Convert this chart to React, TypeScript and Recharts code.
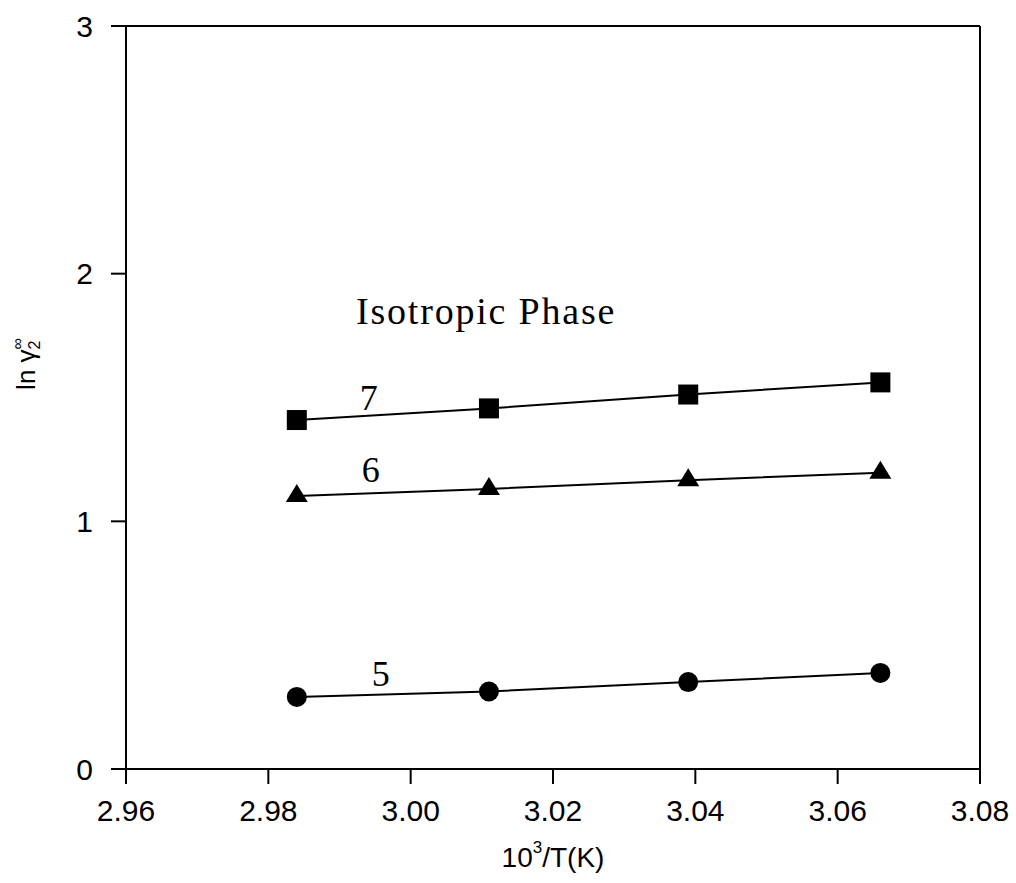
import { Label, Line, LineChart, ReferenceDot, ReferenceLine, XAxis, YAxis } from "recharts";

// 10^3/T values (x) and ln gamma values for curves 5, 6, 7
const xValues = [2.984, 3.011, 3.039, 3.066];
const curve5 = [0.291, 0.313, 0.351, 0.388];
const curve6 = [1.102, 1.131, 1.166, 1.196];
const curve7 = [1.409, 1.456, 1.512, 1.561];

const xTicks = [2.96, 2.98, 3.0, 3.02, 3.04, 3.06, 3.08];
const yTicks = [0, 1, 2, 3];

const data = xValues.map((x, i) => ({ x, c5: curve5[i], c6: curve6[i], c7: curve7[i] }));

const sans = "Liberation Sans, Arial, sans-serif";
const serif = "Liberation Serif, Times New Roman, serif";
const tickStyle = { fill: "#000", fontSize: 30, fontFamily: sans };

const squareDot = (p: any) => (
  <rect key={`sq-${p.index}`} x={p.cx - 10} y={p.cy - 10} width={20} height={20} fill="#000" />
);
const triangleDot = (p: any) => (
  <polygon
    key={`tr-${p.index}`}
    points={`${p.cx},${p.cy - 12} ${p.cx + 11},${p.cy + 6} ${p.cx - 11},${p.cy + 6}`}
    fill="#000"
  />
);
const circleDot = (p: any) => <circle key={`ci-${p.index}`} cx={p.cx} cy={p.cy} r={10} fill="#000" />;

const curveLabel = (text: string, size = 36, spacing = 0) => (props: any) => {
  const { viewBox } = props;
  const cx = viewBox.x + (viewBox.width || 0) / 2;
  const cy = viewBox.y + (viewBox.height || 0) / 2;
  return (
    <text
      x={cx}
      y={cy}
      textAnchor="middle"
      dominantBaseline="central"
      fontFamily={serif}
      fontSize={size}
      letterSpacing={spacing}
      fill="#000"
    >
      {text}
    </text>
  );
};

export default function App() {
  return (
    <div style={{ position: "absolute", left: 0, top: 0, background: "#fff" }}>
      <LineChart width={1016} height={883} data={data} margin={{ top: 26, right: 36, bottom: 34, left: 26 }}>
        <XAxis
          type="number"
          dataKey="x"
          domain={[2.96, 3.08]}
          ticks={xTicks}
          tickFormatter={(v: number) => v.toFixed(2)}
          allowDataOverflow
          height={80}
          tick={tickStyle}
          tickSize={15}
          tickMargin={16}
          axisLine={{ stroke: "#000", strokeWidth: 2 }}
          tickLine={{ stroke: "#000", strokeWidth: 2 }}
        >
          <Label
            content={(props: any) => {
              const vb = props.viewBox;
              return (
                <text
                  x={vb.x + vb.width / 2}
                  y={vb.y + 88}
                  textAnchor="middle"
                  dominantBaseline="central"
                  fontFamily={sans}
                  fontSize={28}
                  fill="#000"
                >
                  10<tspan dy={-10} fontSize={17}>3</tspan>
                  <tspan dy={10}>/T(K)</tspan>
                </text>
              );
            }}
          />
        </XAxis>
        <YAxis
          type="number"
          domain={[0, 3]}
          ticks={yTicks}
          width={100}
          tick={tickStyle}
          tickSize={15}
          tickMargin={18}
          axisLine={{ stroke: "#000", strokeWidth: 2 }}
          tickLine={{ stroke: "#000", strokeWidth: 2 }}
        >
          <Label
            content={() => (
              <text
                x={26}
                y={364}
                transform="rotate(-90, 26, 364)"
                textAnchor="middle"
                dominantBaseline="central"
                fontFamily={sans}
                fontSize={26}
                fill="#000"
              >
                ln γ<tspan dy={8} fontSize={16}>2</tspan>
                <tspan dx={-9} dy={-17} fontSize={16}>∞</tspan>
              </text>
            )}
          />
        </YAxis>
        <ReferenceLine y={3} stroke="#000" strokeWidth={2} />
        <ReferenceLine x={3.08} stroke="#000" strokeWidth={2} />
        <Line type="linear" dataKey="c7" stroke="#000" strokeWidth={2} dot={squareDot} activeDot={false} isAnimationActive={false} />
        <Line type="linear" dataKey="c6" stroke="#000" strokeWidth={2} dot={triangleDot} activeDot={false} isAnimationActive={false} />
        <Line type="linear" dataKey="c5" stroke="#000" strokeWidth={2} dot={circleDot} activeDot={false} isAnimationActive={false} />
        <ReferenceDot x={2.9941} y={1.498} r={0} stroke="none" label={curveLabel("7")} />
        <ReferenceDot x={2.9944} y={1.207} r={0} stroke="none" label={curveLabel("6")} />
        <ReferenceDot x={2.9958} y={0.384} r={0} stroke="none" label={curveLabel("5")} />
        <ReferenceDot x={3.0106} y={1.849} r={0} stroke="none" label={curveLabel("Isotropic Phase", 38, 1.8)} />
      </LineChart>
    </div>
  );
}
